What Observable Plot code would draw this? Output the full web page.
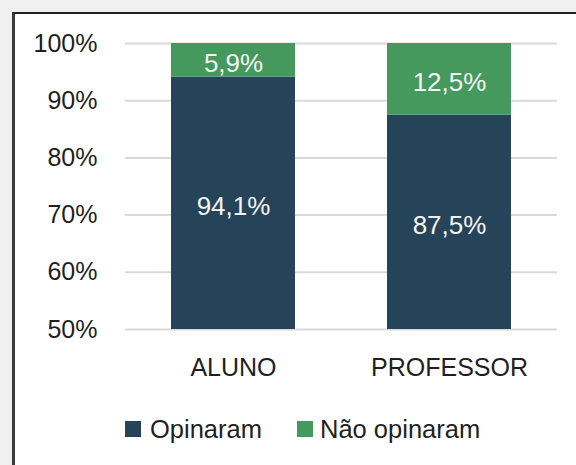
<!DOCTYPE html>
<html>
<head>
<meta charset="utf-8">
<script src="https://cdn.jsdelivr.net/npm/d3@7"></script>
<script src="https://cdn.jsdelivr.net/npm/@observablehq/plot@0.6"></script>
<style>
  html, body { margin: 0; padding: 0; background: #f0f0f0; width: 576px; height: 465px; overflow: hidden; position: relative; font-family: "Liberation Sans", Arial, sans-serif; }
  #panel { position: absolute; left: 12px; top: 12px; width: 600px; height: 500px; background: #fff; border-left: 3px solid #3a3a3a; border-top: 2px solid #222; box-sizing: border-box; }
  #chart { position: absolute; left: 0; top: 0; }
  .leg { position: absolute; font-size: 25.5px; color: #1f1f1f; line-height: 26px; }
  .sw { position: absolute; width: 16px; height: 16px; }
</style>
</head>
<body>
<div id="panel"></div>
<div id="chart"></div>
<div id="legend"></div>
<script>
const groups = ["ALUNO", "PROFESSOR"];
const series = ["Opinaram", "Não opinaram"];
const opinaram = [94.1, 87.5];
const naoOpinaram = [5.9, 12.5];
const colors = ["#264459", "#45995c"];
const yTicks = [50, 60, 70, 80, 90, 100];
const yDomain = [50, 100];

const rows = [];
groups.forEach((g, i) => {
  const vals = [opinaram[i], naoOpinaram[i]];
  let acc = 0;
  series.forEach((s, j) => {
    const start = acc, end = acc + vals[j];
    acc = end;
    rows.push({group: g, series: s, value: vals[j], start, end,
               mid: (Math.max(start, yDomain[0]) + end) / 2,
               label: vals[j].toFixed(1).replace(".", ",") + "%"});
  });
});

const chart = Plot.plot({
  width: 576,
  height: 400,
  marginLeft: 125,
  marginRight: 19,
  marginTop: 43,
  marginBottom: 71,
  style: {fontFamily: "'Liberation Sans', Arial, sans-serif", fontSize: "25px", color: "#1f1f1f", background: "transparent"},
  x: {domain: groups, paddingInner: 0.426, paddingOuter: 0.213, label: null},
  y: {domain: yDomain, label: null},
  color: {domain: series, range: colors},
  marks: [
    Plot.gridY(yTicks, {stroke: "#d9d9d9", strokeOpacity: 1, strokeWidth: 2}),
    Plot.barY(rows, {x: "group", y1: "start", y2: "end", fill: "series", clip: true}),
    Plot.text(rows, {x: "group", y: "mid", text: "label", fill: "#f4f4f4", fontSize: 26, dy: 3}),
    Plot.axisY({ticks: yTicks, tickFormat: d => d + "%", tickSize: 0, tickPadding: 28, fontSize: 25, label: null}),
    Plot.axisX({tickSize: 0, tickPadding: 29, fontSize: 25, label: null})
  ]
});
document.getElementById("chart").appendChild(chart);

const legend = document.getElementById("legend");
const legPos = [{sx: 125, tx: 150}, {sx: 297, tx: 320}];
series.forEach((s, i) => {
  const sw = document.createElement("div");
  sw.className = "sw";
  sw.style.left = legPos[i].sx + "px";
  sw.style.top = "421px";
  sw.style.background = colors[i];
  legend.appendChild(sw);
  const t = document.createElement("div");
  t.className = "leg";
  t.style.left = legPos[i].tx + "px";
  t.style.top = "416px";
  t.textContent = s;
  legend.appendChild(t);
});
</script>
</body>
</html>
